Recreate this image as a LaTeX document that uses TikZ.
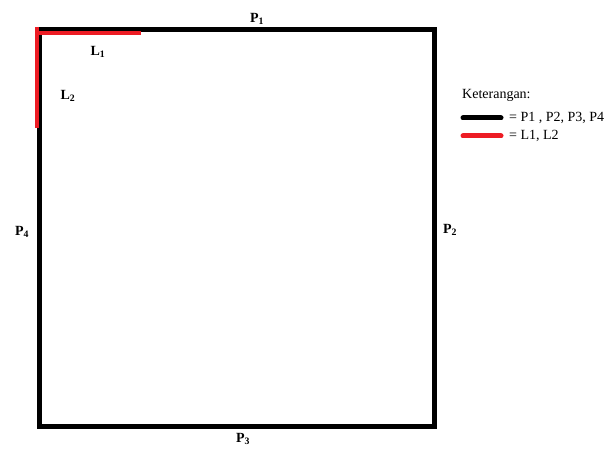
\documentclass[tikz,border=0pt]{standalone}
\usepackage{fontspec}
\setmainfont{Liberation Serif}
\definecolor{lred}{RGB}{237,28,36}
\begin{document}
\begin{tikzpicture}[x=1pt,y=-1pt,
  wall/.style={line width=5pt,black},
  redline/.style={line width=4pt,draw=lred},
  lbl/.style={font=\fontsize{14}{15}\selectfont\bfseries,inner sep=0pt},
  leg/.style={font=\fontsize{14}{15}\selectfont,inner sep=0pt,anchor=west}]
\useasboundingbox (0,0) rectangle (612,449);
\coordinate (A) at (39.5,29.5);
\coordinate (B) at (434,29.5);
\coordinate (C) at (434,426);
\coordinate (D) at (39.5,426);
\draw[wall,line cap=rect] (A) -- (B) -- (C) -- (D) -- cycle;
\coordinate (r1a) at (35,33.5);
\coordinate (r1b) at (141,33.5);
\coordinate (r2a) at (36.5,27);
\coordinate (r2b) at (36.5,128);
\draw[redline] (r1a) -- (r1b);
\draw[redline] (r2a) -- (r2b);
\node[lbl] (p1) at (257,19) {P\textsubscript{1}};
\node[lbl] (l1) at (98,52) {L\textsubscript{1}};
\node[lbl] (l2) at (68,96) {L\textsubscript{2}};
\node[lbl] (p4) at (22,232) {P\textsubscript{4}};
\node[lbl] (p2) at (450,230) {P\textsubscript{2}};
\node[lbl] (p3) at (243,439) {P\textsubscript{3}};
\node[leg] (ket) at (462,95) {Keterangan:};
\coordinate (k1a) at (463,118);
\coordinate (k1b) at (501,118);
\coordinate (k2a) at (463,136);
\coordinate (k2b) at (501,136);
\draw[line width=5pt,line cap=round] (k1a) -- (k1b);
\draw[line width=5pt,line cap=round,lred] (k2a) -- (k2b);
\node[leg] (t1) at (509,118) {= P1 , P2, P3, P4};
\node[leg] (t2) at (509,136) {= L1, L2};
\end{tikzpicture}
\end{document}
